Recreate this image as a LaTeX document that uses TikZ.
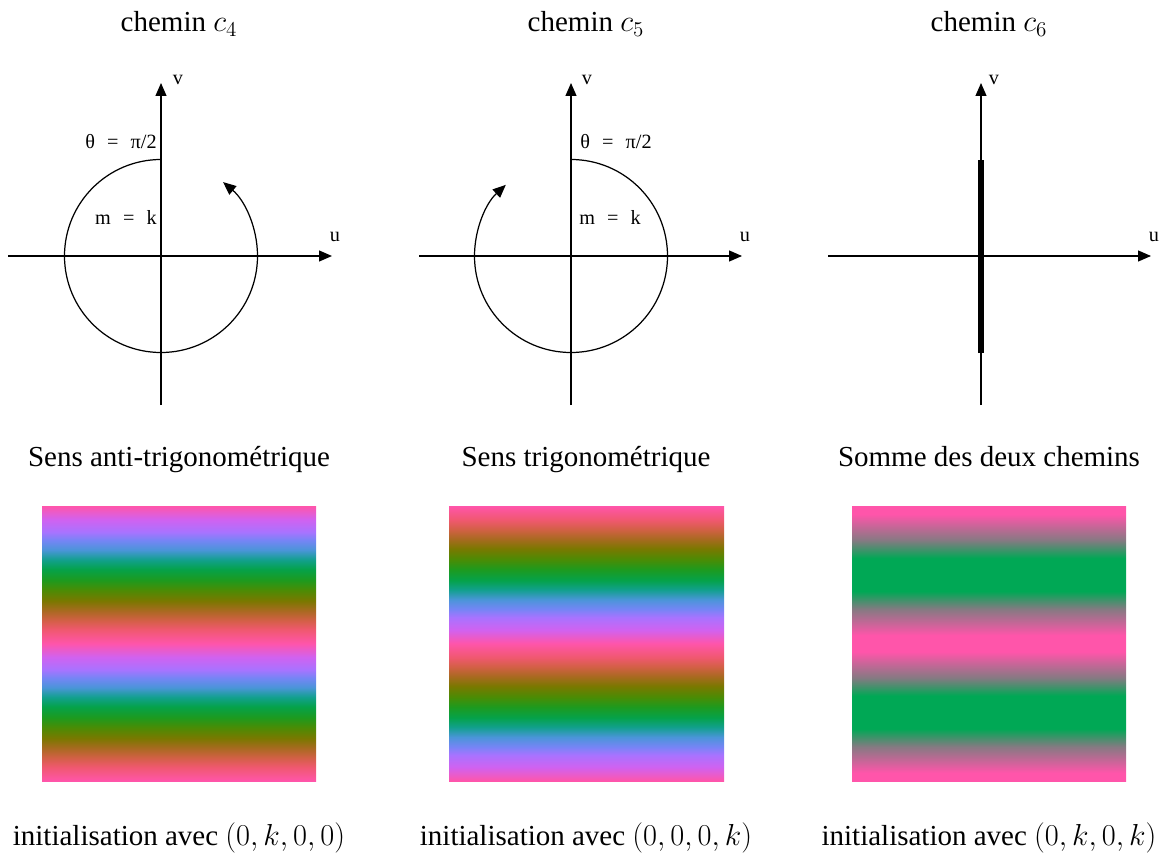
\documentclass[tikz,border=0pt]{standalone}
\usepackage{fontspec}
\setmainfont{Liberation Serif}
\usetikzlibrary{arrows.meta}

\definecolor{pinkc}{HTML}{FF55AA}
\definecolor{redc}{HTML}{F05870}
\definecolor{orangec}{HTML}{D26045}
\definecolor{brownc}{HTML}{A86A20}
\definecolor{olivec}{HTML}{7A7800}
\definecolor{olgreenc}{HTML}{4A8C05}
\definecolor{dgreenc}{HTML}{1E9A1E}
\definecolor{greenc}{HTML}{05A24A}
\definecolor{tealc}{HTML}{12A08E}
\definecolor{cyanc}{HTML}{4A95D8}
\definecolor{bluec}{HTML}{7585F5}
\definecolor{purplec}{HTML}{A873FF}
\definecolor{violetc}{HTML}{D062F0}
\definecolor{sumgreen}{HTML}{00A855}
\definecolor{sumgray}{HTML}{857A82}

% one turn of the hue wheel per half square
\pgfdeclareverticalshading{hueturn}{100bp}{color(0bp)=(pinkc);
  color(25bp)=(pinkc); color(27.5bp)=(redc); color(29.25bp)=(orangec);
  color(31bp)=(brownc); color(32.75bp)=(olivec); color(34.75bp)=(olgreenc);
  color(36.5bp)=(dgreenc); color(38.5bp)=(greenc); color(40.25bp)=(tealc);
  color(42bp)=(cyanc); color(43.75bp)=(bluec); color(45.25bp)=(purplec);
  color(47.5bp)=(violetc);
  color(50bp)=(pinkc); color(52.5bp)=(redc); color(54.25bp)=(orangec);
  color(56bp)=(brownc); color(57.75bp)=(olivec); color(59.75bp)=(olgreenc);
  color(61.5bp)=(dgreenc); color(63.5bp)=(greenc); color(65.25bp)=(tealc);
  color(67bp)=(cyanc); color(68.75bp)=(bluec); color(70.25bp)=(purplec);
  color(72.5bp)=(violetc);
  color(75bp)=(pinkc); color(100bp)=(pinkc)}

\pgfdeclareverticalshading{huesum}{100bp}{color(0bp)=(pinkc);
  color(25bp)=(pinkc); color(26.5bp)=(pinkc); color(31.25bp)=(sumgray);
  color(34.5bp)=(sumgreen); color(40.5bp)=(sumgreen); color(43.75bp)=(sumgray);
  color(48.5bp)=(pinkc);
  color(51.5bp)=(pinkc); color(56.25bp)=(sumgray);
  color(59.5bp)=(sumgreen); color(65.5bp)=(sumgreen); color(68.75bp)=(sumgray);
  color(73.5bp)=(pinkc);
  color(75bp)=(pinkc); color(100bp)=(pinkc)}

\newcommand{\eqsp}{\hspace{0.6em}=\hspace{0.6em}}

\begin{document}
\begin{tikzpicture}[x=0.02cm, y=0.02cm]
    \tikzstyle{axis}=[line width=0.7pt, -{Triangle[length=0.26cm, width=0.22cm]}]
    \tikzstyle{pathline}=[line width=0.7pt]
    \tikzstyle{caption}=[font=\fontsize{16.5}{20}\selectfont, anchor=base]
    \tikzstyle{axlabel}=[font=\fontsize{11.5}{14}\selectfont, inner sep=0pt]

    \useasboundingbox (0,0) rectangle (1165,860);

    % chemin c4
    \coordinate (o4) at (161,604);
    \coordinate (u4a) at (8,604);
    \coordinate (u4b) at (332,604);
    \coordinate (v4a) at (161,455);
    \coordinate (v4b) at (161,777);
    \draw[axis] (u4a) -- (u4b);
    \draw[axis] (v4a) -- (v4b);
    \draw[pathline, -{Triangle[length=0.26cm, width=0.22cm]}] ([shift={(90:96.5)}]o4) arc[start angle=90, end angle=410, radius=96.5];
    \node[axlabel] (u4) at (335,623) {u};
    \node[axlabel] (v4) at (178,780) {v};
    \node[axlabel, anchor=east] (th4) at (157,718) {θ\eqsp π/2};
    \node[axlabel, anchor=east] (m4) at (157,643) {m\eqsp k};

    % chemin c5
    \coordinate (o5) at (571,604);
    \coordinate (u5a) at (419,604);
    \coordinate (u5b) at (742,604);
    \coordinate (v5a) at (571,455);
    \coordinate (v5b) at (571,777);
    \draw[axis] (u5a) -- (u5b);
    \draw[axis] (v5a) -- (v5b);
    \draw[pathline, -{Triangle[length=0.26cm, width=0.22cm]}] ([shift={(90:96.5)}]o5) arc[start angle=90, end angle=-227.5, radius=96.5];
    \node[axlabel] (u5) at (745,623) {u};
    \node[axlabel] (v5) at (587,780) {v};
    \node[axlabel, anchor=west] (th5) at (580,718) {θ\eqsp π/2};
    \node[axlabel, anchor=west] (m5) at (579,643) {m\eqsp k};

    % chemin c6
    \coordinate (o6) at (981,604);
    \coordinate (u6a) at (828,604);
    \coordinate (u6b) at (1151,604);
    \coordinate (v6a) at (981,455);
    \coordinate (v6b) at (981,777);
    \coordinate (b6a) at (981,507);
    \coordinate (b6b) at (981,700);
    \draw[axis] (u6a) -- (u6b);
    \draw[axis] (v6a) -- (v6b);
    \draw[line width=3.4pt] (b6a) -- (b6b);
    \node[axlabel] (u6) at (1154,623) {u};
    \node[axlabel] (v6) at (994,780) {v};

    % titres
    \node[caption] (c4) at (179,828) {chemin $c_4$};
    \node[caption] (c5) at (586,828) {chemin $c_5$};
    \node[caption] (c6) at (989,828) {chemin $c_6$};

    \node[caption] (s4) at (179,394) {Sens anti-trigonométrique};
    \node[caption] (s5) at (586,394) {Sens trigonométrique};
    \node[caption] (s6) at (989,394) {Somme des deux chemins};

    % images
    \shade[shading=hueturn] (42,79) rectangle (316,354);
    \shade[shading=hueturn, shading angle=180] (449,79) rectangle (724,354);
    \shade[shading=huesum] (852,79) rectangle (1126,354);

    \node[caption] (i4) at (179,15) {initialisation avec $(0,k,0,0)$};
    \node[caption] (i5) at (586,15) {initialisation avec $(0,0,0,k)$};
    \node[caption] (i6) at (989,15) {initialisation avec $(0,k,0,k)$};
  \end{tikzpicture}
\end{document}
